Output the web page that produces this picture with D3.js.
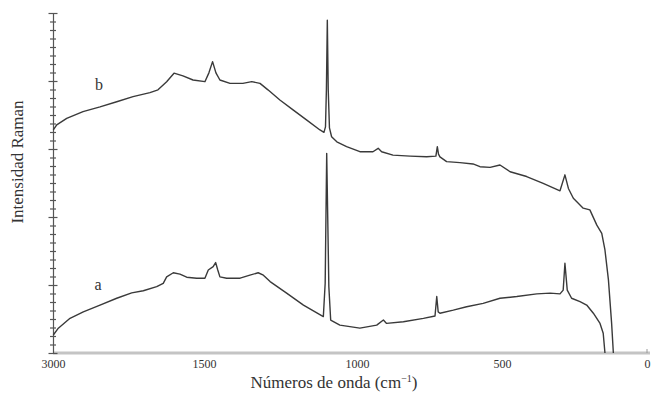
<!DOCTYPE html>
<html>
<head>
<meta charset="utf-8">
<script src="https://cdn.jsdelivr.net/npm/d3@7"></script>
<style>
  body { margin: 0; background: #fff; }
  svg text { font-family: "Liberation Serif", "DejaVu Serif", serif; fill: #333; }
</style>
</head>
<body>
<svg id="chart" width="659" height="395"></svg>
<script>
// wavenumber (cm-1) / relative intensity
var spectrumB = [
  [2997, 65.6], [2963, 67.1], [2864, 69.0], [2702, 71.0], [2533, 72.4], [2367, 73.9],
  [2205, 75.4], [2037, 76.6], [1957, 77.4], [1871, 79.8], [1798, 82.3], [1709, 81.5],
  [1609, 80.3], [1497, 79.8], [1484, 82.4], [1472, 85.7], [1461, 82.4], [1448, 80.3],
  [1415, 79.3], [1373, 79.3], [1344, 79.8], [1317, 79.3], [1291, 77.4], [1252, 74.4],
  [1209, 71.5], [1164, 68.5], [1121, 65.6], [1108, 64.9], [1103, 66.5], [1100, 77.4],
  [1097, 97.9], [1094, 77.4], [1090, 66.2], [1083, 63.6], [1066, 62.1], [1034, 60.7],
  [990, 59.2], [945, 59.2], [927, 60.2], [915, 59.2], [876, 58.2], [817, 57.9],
  [760, 57.7], [728, 57.9], [723, 60.7], [719, 58.5], [714, 57.7], [691, 56.3],
  [645, 56.0], [600, 55.6], [576, 54.8], [541, 54.6], [507, 55.3], [472, 53.3],
  [415, 51.9], [358, 49.9], [300, 47.7], [283, 52.4], [271, 48.4], [254, 45.5],
  [220, 42.6], [197, 42.1], [173, 37.6], [156, 35.2], [145, 30.3], [133, 21.5],
  [122, 8.7], [116, 0]
];
var spectrumA = [
  [2997, 5.3], [2947, 7.3], [2831, 10.2], [2699, 12.1], [2533, 14.1], [2367, 16.1],
  [2218, 17.7], [2103, 18.3], [1970, 19.5], [1905, 20.5], [1871, 22.4], [1805, 23.6],
  [1739, 23.2], [1672, 22.3], [1573, 22.0], [1497, 22.0], [1486, 24.4], [1470, 25.4],
  [1462, 26.6], [1455, 24.4], [1448, 22.4], [1426, 22.0], [1382, 22.0], [1350, 22.9],
  [1323, 23.6], [1306, 22.9], [1284, 21.0], [1230, 17.6], [1175, 14.1], [1110, 10.7],
  [1104, 20.5], [1099, 58.7], [1092, 19.5], [1086, 9.7], [1056, 8.2], [990, 7.3],
  [932, 8.2], [909, 9.7], [898, 8.7], [840, 9.2], [771, 10.2], [731, 10.9],
  [725, 16.6], [720, 12.1], [714, 11.7], [668, 12.6], [622, 13.6], [565, 14.6],
  [507, 16.1], [449, 16.6], [380, 17.4], [334, 17.6], [300, 17.4], [289, 18.5],
  [283, 26.4], [275, 18.5], [260, 16.1], [231, 15.1], [208, 14.1], [185, 11.7],
  [162, 8.7], [151, 5.8], [145, 0]
];
var seriesNames = ['a', 'b'];
var labelAnchors = [[2553, 18.5], [2543, 77.4]];   // where the a / b tags sit
var xTickValues = [3000, 1500, 1000, 500, 0];
var xBreaks = [3000, 1500, 1000, 500, 0];          // the printed axis is not evenly spaced
var yTickValues = d3.range(0, 100.01, 2.5);
var xTitle = 'Números de onda (cm';
var yTitle = 'Intensidad Raman';

var svg = d3.select('#chart');

// axis is stretched piecewise between the printed ticks
var x = d3.scaleLinear().domain(xBreaks).range([53, 204, 357, 502, 647]);
var y = d3.scaleLinear().domain([0, 100]).range([353, 13]);

// x axis - light grey rule with tick labels under it
var xAxis = d3.axisBottom(x).tickValues(xTickValues).tickSize(0).tickPadding(6)
    .tickFormat(d3.format('d'));
var gx = svg.append('g').attr('transform', 'translate(0,' + y(0) + ')').call(xAxis);
gx.select('.domain').attr('d', 'M' + x(3000) + ',0H' + (x(0) + 3))
    .attr('stroke', '#c4c4c4').attr('stroke-width', 3);
gx.selectAll('.tick text').attr('font-size', 12).style('font-family', '"Liberation Serif", serif')
    .attr('fill', '#444');
gx.append('line').attr('x1', x(0)).attr('x2', x(0)).attr('y1', -4).attr('y2', 0)
    .attr('stroke', '#999');

// y axis - no labels, dense small cross ticks
var yAxis = d3.axisLeft(y).tickValues(yTickValues).tickSize(0).tickFormat('');
var gy = svg.append('g').attr('transform', 'translate(' + x(3000) + ',0)').call(yAxis);
gy.select('.domain').attr('stroke', '#555').attr('stroke-width', 1.2);
gy.selectAll('.tick line')
    .attr('x1', function(d, i) { return i % 8 === 0 ? -4.5 : -3; })
    .attr('x2', function(d, i) { return i % 8 === 0 ? 4.5 : 3; })
    .attr('stroke', '#555')
    .attr('stroke-width', 1.2);

// spectra
var line = d3.line().x(function(d) { return x(d[0]); }).y(function(d) { return y(d[1]); });
svg.append('g').selectAll('path').data([spectrumA, spectrumB]).enter().append('path')
    .attr('d', line)
    .attr('fill', 'none')
    .attr('stroke', '#3a3a3a')
    .attr('stroke-width', 1.4)
    .attr('stroke-linejoin', 'round');

// a / b tags
svg.append('g').selectAll('text').data(seriesNames).enter().append('text')
    .attr('x', function(d, i) { return x(labelAnchors[i][0]); })
    .attr('y', function(d, i) { return y(labelAnchors[i][1]); })
    .attr('text-anchor', 'middle')
    .attr('font-size', 16)
    .text(function(d) { return d; });

// titles
var xt = svg.append('text').attr('x', 334).attr('y', 388).attr('text-anchor', 'middle')
    .attr('font-size', 17).text(xTitle);
xt.append('tspan').attr('dy', -6).attr('font-size', 10).text('−1');
xt.append('tspan').attr('dy', 6).text(')');

svg.append('text').attr('transform', 'translate(23,' + 162 + ') rotate(-90)')
    .attr('text-anchor', 'middle').attr('font-size', 17).text(yTitle);
</script>
</body>
</html>
